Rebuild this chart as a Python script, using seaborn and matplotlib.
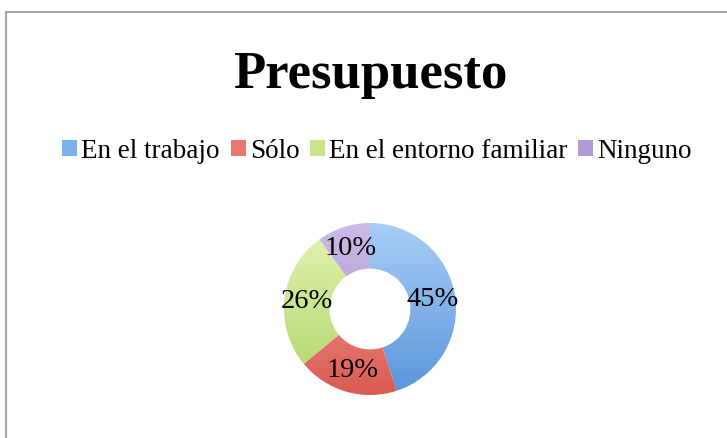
import numpy as np
import matplotlib
matplotlib.use("Agg")
import matplotlib.pyplot as plt
from matplotlib.patches import Rectangle, Patch
from matplotlib.colors import LinearSegmentedColormap
import seaborn as sns

# Data
labels = ['En el trabajo', 'Sólo', 'En el entorno familiar', 'Ninguno']
values = [45, 19, 26, 10]
light = ['#A8CDF6', '#F6A7A1', '#E4F6B2', '#CDBCE8']
dark = ['#5A95DA', '#DA5B53', '#B0D26A', '#9A82C4']
mid = ['#7EB0EA', '#E8776F', '#C9E48C', '#B09DD6']

sns.set_theme(style="white")
plt.rcParams['font.family'] = ['Liberation Serif', 'DejaVu Serif']
plt.rcParams['text.color'] = 'black'

fig = plt.figure(figsize=(7.27, 4.38), dpi=100)
W, H = 727, 438

# chart frame (right and bottom edges run off the image)
fig.patches.append(Rectangle((6 / W, -0.2), 1.2, (H - 12) / H + 0.2, transform=fig.transFigure,
                             fill=False, edgecolor='#A6A6A6', lw=1.5))

cx, cy, r = 370, 129, 86
ax = fig.add_axes([(cx - r) / W, (cy - r) / H, 2 * r / W, 2 * r / H])

wedges, texts, autotexts = ax.pie(values, colors=mid, startangle=90, counterclock=False,
                                  autopct='%1.0f%%', pctdistance=0.74,
                                  wedgeprops=dict(width=0.53, linewidth=0),
                                  textprops=dict(fontsize=20.5, color='black'))

# vertical gradient fill per wedge
grad = np.linspace(0, 1, 256).reshape(-1, 1)
for w, c1, c2 in zip(wedges, light, dark):
    cmap = LinearSegmentedColormap.from_list('g', [c1, c2])
    im = ax.imshow(grad, cmap=cmap, extent=(-1, 1, -1, 1), aspect='auto', zorder=1)
    im.set_clip_path(w)
    w.set_facecolor('none')
for t in autotexts:
    t.set_zorder(5)
ax.set_xlim(-1, 1)
ax.set_ylim(-1, 1)
ax.axis('off')

fig.text(370 / W, 1 - 88 / H, 'Presupuesto', ha='center', va='baseline',
         fontsize=38, fontweight='bold', color='black')

handles = [Patch(facecolor=c, edgecolor='none') for c in mid]
fig.legend(handles, labels, loc='center', bbox_to_anchor=(377 / W, 1 - 151 / H),
           ncol=4, frameon=False, fontsize=19.5, handlelength=0.55, handleheight=0.55,
           handletextpad=0.15, columnspacing=0.4, labelcolor='black')

fig.savefig('out.png', dpi=100)
